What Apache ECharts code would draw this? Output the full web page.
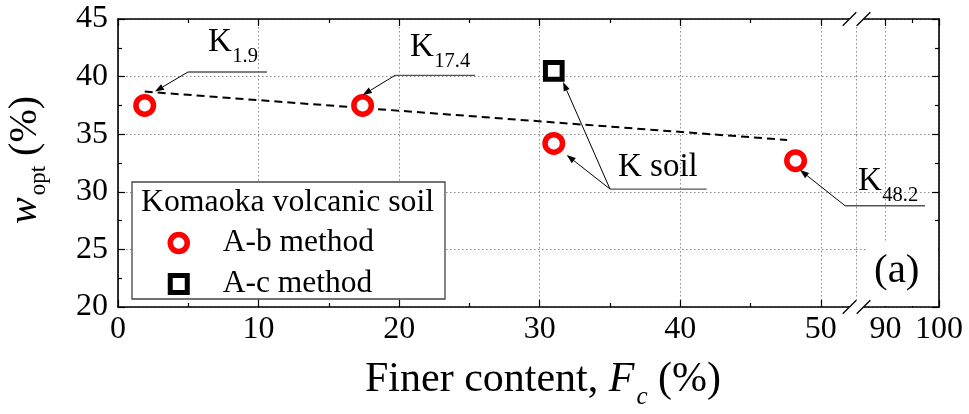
<!DOCTYPE html>
<html><head><meta charset="utf-8">
<script src="https://cdn.jsdelivr.net/npm/echarts@6/dist/echarts.min.js"></script>
<style>html,body{margin:0;padding:0;background:#fff}#c{width:969px;height:414px}</style>
</head><body><div id="c"></div>
<script>
// ---- data ----
const abMethod = [[1.9, 37.5], [17.4, 37.5], [31.0, 34.2], [48.2, 32.7]];
const acMethod = [[31.0, 40.5]];
const trendLine = [[1.9, 38.7], [47.6, 34.5]];
const xLeftRange = [0, 52.5];
const xRightRange = [84.5, 100];
const xRightTicks = [90, 100];
const xRightMinor = [95];
const yRange = [20, 45];
const seriesNames = ['A-b method', 'A-c method'];
const legendTitle = 'Komaoka volcanic soil';
const xTitle = ['Finer content, ', 'F', 'c', ' (%)'];
const yTitle = ['w', 'opt', ' (%)'];
const panelLabel = '(a)';
// annotation anchors in data units of the left panel
const annotations = [
  {main: 'K', sub: '1.9', at: [6.40, 42.05], line: [[4.98, 40.40], [10.60, 40.40]], arrows: [[2.63, 38.71]]},
  {main: 'K', sub: '17.4', at: [20.77, 41.61], line: [[19.71, 40.11], [25.40, 40.11]], arrows: [[17.41, 38.40]]},
  {main: 'K soil', sub: '', at: [35.57, 31.20], line: [[35.0, 30.24], [41.88, 30.24]], arrows: [[31.92, 33.19], [31.66, 39.53]]},
  {main: 'K', sub: '48.2', at: [52.64, 30.01], line: [[51.72, 28.79], [57.41, 28.79]], arrows: [[48.52, 31.89]]}
];

const FF = '"Liberation Serif", "Times New Roman", serif';
const mctx = document.createElement('canvas').getContext('2d');
function tw(t, size, italic) { mctx.font = (italic ? 'italic ' : '') + size + 'px "Liberation Serif"'; return mctx.measureText(t).width; }
const MID = 0.32; // baseline offset of middle-aligned text

const gridLine = {show: true, lineStyle: {color: '#8a8a8a', width: 1, type: [1.5, 2.5]}};
const axLine = {show: true, onZero: false, lineStyle: {color: '#000', width: 1.6}};
const tickMaj = {show: true, inside: true, length: 7, lineStyle: {color: '#000', width: 1.2}};
const tickMin = {show: true, splitNumber: 2, length: 4, lineStyle: {color: '#000', width: 1.2}};
const lbl = {fontSize: 32, fontFamily: FF, color: '#000'};

const chart = echarts.init(document.getElementById('c'), null, {renderer: 'canvas'});
const option = {
  animation: false,
  backgroundColor: '#fff',
  grid: [
    {left: 118, top: 19, width: 738, height: 288},
    {left: 856, top: 19, width: 83, height: 288}
  ],
  xAxis: [
    {gridIndex: 0, type: 'value', position: 'bottom', min: xLeftRange[0], max: xLeftRange[1], interval: 10,
      axisLine: axLine, axisTick: tickMaj, minorTick: tickMin, splitLine: gridLine,
      axisLabel: Object.assign({margin: 7, showMaxLabel: false, showMinLabel: true, hideOverlap: false}, lbl)},
    {gridIndex: 0, type: 'value', position: 'top', min: xLeftRange[0], max: xLeftRange[1], interval: 10,
      axisLine: axLine, axisTick: tickMaj, minorTick: tickMin, splitLine: {show: false}, axisLabel: {show: false}},
    {gridIndex: 1, type: 'value', position: 'bottom', min: xRightRange[0], max: xRightRange[1],
      axisLine: axLine, axisTick: Object.assign({customValues: xRightTicks}, tickMaj), splitLine: gridLine,
      axisLabel: Object.assign({margin: 7, customValues: xRightTicks, hideOverlap: false}, lbl)},
    {gridIndex: 1, type: 'value', position: 'bottom', min: xRightRange[0], max: xRightRange[1],
      axisLine: {show: false}, axisTick: Object.assign({}, tickMaj, {length: 4, customValues: xRightMinor}),
      splitLine: {show: false}, axisLabel: {show: false}},
    {gridIndex: 1, type: 'value', position: 'top', min: xRightRange[0], max: xRightRange[1],
      axisLine: axLine, axisTick: Object.assign({customValues: xRightTicks}, tickMaj), splitLine: {show: false}, axisLabel: {show: false}},
    {gridIndex: 1, type: 'value', position: 'top', min: xRightRange[0], max: xRightRange[1],
      axisLine: {show: false}, axisTick: Object.assign({}, tickMaj, {length: 4, customValues: xRightMinor}),
      splitLine: {show: false}, axisLabel: {show: false}}
  ],
  yAxis: [
    {gridIndex: 0, type: 'value', position: 'left', min: yRange[0], max: yRange[1], interval: 5,
      axisLine: axLine, axisTick: tickMaj, minorTick: tickMin, splitLine: gridLine,
      axisLabel: Object.assign({margin: 10, hideOverlap: false}, lbl)},
    {gridIndex: 1, type: 'value', position: 'right', min: yRange[0], max: yRange[1], interval: 5,
      axisLine: axLine, axisTick: tickMaj, minorTick: tickMin, splitLine: gridLine, axisLabel: {show: false}}
  ],
  legend: {
    show: true, orient: 'vertical', left: 167.5, top: 227, padding: 0, itemGap: 9,
    itemWidth: 17, itemHeight: 17, z: 6, selectedMode: false,
    textStyle: {fontSize: 31.5, fontFamily: FF, color: '#000', lineHeight: 30, padding: [0, 0, 0, 30.5]},
    data: [
      {name: seriesNames[0], icon: 'circle', itemStyle: {color: '#fff', borderColor: '#ff0000', borderWidth: 5.5}},
      {name: seriesNames[1], icon: 'rect', itemStyle: {color: '#fff', borderColor: '#000', borderWidth: 5}}
    ]
  },
  series: [
    {type: 'line', name: 'trend', xAxisIndex: 0, yAxisIndex: 0, data: trendLine, showSymbol: false, symbol: 'none',
      lineStyle: {color: '#000', width: 2, type: [8, 5]}, z: 2, silent: true},
    {type: 'scatter', name: seriesNames[0], xAxisIndex: 0, yAxisIndex: 0, data: abMethod, symbol: 'circle', symbolSize: 17.5,
      itemStyle: {color: '#fff', borderColor: '#ff0000', borderWidth: 5.5, opacity: 1}, z: 3},
    {type: 'scatter', name: seriesNames[1], xAxisIndex: 0, yAxisIndex: 0, data: acMethod, symbol: 'rect', symbolSize: 16.7,
      itemStyle: {color: '#fff', borderColor: '#000', borderWidth: 5, opacity: 1}, z: 3}
  ]
};
chart.setOption(option);

// ---- decorations / annotations ----
const P = (v) => chart.convertToPixel({xAxisIndex: 0, yAxisIndex: 0}, v);
const g = [];
function txt(t, x, baseline, size, italic, extra) {
  return Object.assign({type: 'text', z: 20, style: {text: t, x: x, y: baseline - MID * size, fontSize: size, fontFamily: FF,
    fontStyle: italic ? 'italic' : 'normal', fill: '#000', align: 'left', verticalAlign: 'middle'}}, extra || {});
}
function arrow(from, to) {
  const dx = to[0] - from[0], dy = to[1] - from[1], L = Math.hypot(dx, dy), ux = dx / L, uy = dy / L;
  const hl = 9, hw = 3.2;
  const bx = to[0] - ux * hl, by = to[1] - uy * hl;
  g.push({type: 'line', z: 15, shape: {x1: from[0], y1: from[1], x2: bx, y2: by}, style: {stroke: '#000', lineWidth: 1}});
  g.push({type: 'polygon', z: 15, shape: {points: [to, [bx - uy * hw, by + ux * hw], [bx + uy * hw, by - ux * hw]]}, style: {fill: '#000'}});
}
annotations.forEach(a => {
  const p = P(a.at), size = 33, ssize = 20.5;
  g.push(txt(a.main, p[0], p[1], size, false));
  if (a.sub) g.push(txt(a.sub, p[0] + tw(a.main, size) + 0.5, p[1] + 10.5, ssize, false));
  const l0 = P(a.line[0]), l1 = P(a.line[1]);
  g.push({type: 'line', z: 15, shape: {x1: l0[0], y1: l0[1], x2: l1[0], y2: l1[1]}, style: {stroke: '#555', lineWidth: 1.3}});
  a.arrows.forEach(h => arrow(l0, P(h)));
});

// legend frame + title
g.push({type: 'rect', z: 4, shape: {x: 132, y: 182, width: 313, height: 117}, style: {fill: '#fff', stroke: '#444', lineWidth: 1.3}});
g.push(txt(legendTitle, 141, 213, 31.8, false));

// panel label with white backing
g.push({type: 'rect', z: 4, shape: {x: 867, y: 243, width: 71, height: 63}, style: {fill: '#fff'}});
g.push(txt(panelLabel, 874, 284, 41, false));

// axis break marks
const bx = chart.convertToPixel({xAxisIndex: 0}, xLeftRange[1]);
const yb = chart.convertToPixel({yAxisIndex: 0}, yRange[0]);
const yt = chart.convertToPixel({yAxisIndex: 0}, yRange[1]);
[yb, yt].forEach(y => {
  const s = 6.8, c1 = bx - 6.5, c2 = bx + 7.5;
  g.push({type: 'polygon', z: 12, shape: {points: [[c1 - s, y + s], [c1 + s, y - s], [c2 + s, y - s], [c2 - s, y + s]]}, style: {fill: '#fff'}});
  g.push({type: 'line', z: 13, shape: {x1: c1 - s, y1: y + s, x2: c1 + s, y2: y - s}, style: {stroke: '#000', lineWidth: 1.3}});
  g.push({type: 'line', z: 13, shape: {x1: c2 - s, y1: y + s, x2: c2 + s, y2: y - s}, style: {stroke: '#000', lineWidth: 1.3}});
});

// x axis title
(function () {
  const sizes = [42, 42, 25, 42], ital = [false, true, true, false], dys = [0, 0, 12, 0];
  let x = 365; const base = 393;
  xTitle.forEach((t, i) => { g.push(txt(t, x, base + dys[i], sizes[i], ital[i])); x += tw(t, sizes[i], ital[i]) + (i === 1 ? 2 : 0); });
})();
// y axis title (rotated)
(function () {
  const sizes = [40, 23, 40], ital = [true, false, false], dys = [0, 8, 0];
  const kids = []; let x = 0;
  yTitle.forEach((t, i) => {
    const s = sizes[i];
    kids.push({type: 'text', style: {text: t, x: x, y: dys[i] - MID * s, fontSize: s, fontFamily: FF, fontStyle: ital[i] ? 'italic' : 'normal', fill: '#000', align: 'left', verticalAlign: 'middle'}});
    x += tw(t, s, ital[i]) + (i === 0 ? 2 : 0);
  });
  g.push({type: 'group', x: 38, y: 224, rotation: Math.PI / 2, z: 20, children: kids});
})();

chart.setOption({graphic: {elements: g}});
</script></body></html>
